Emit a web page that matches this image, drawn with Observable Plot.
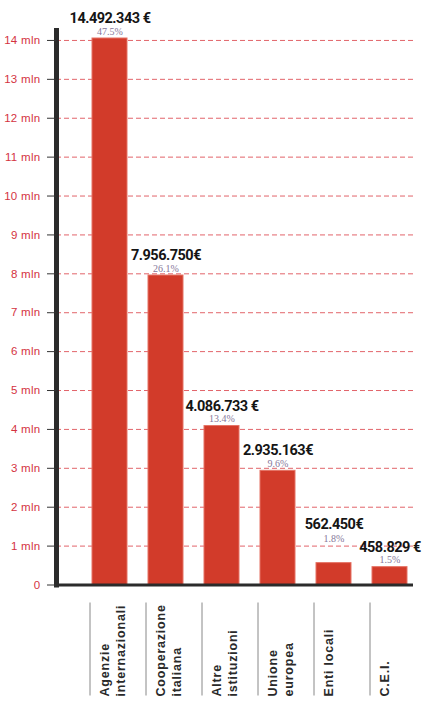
<!DOCTYPE html>
<html>
<head>
<meta charset="utf-8">
<script src="https://cdn.jsdelivr.net/npm/d3@7"></script>
<script src="https://cdn.jsdelivr.net/npm/@observablehq/plot@0.6"></script>
<style>
  html, body { margin: 0; padding: 0; background: #fff; }
  .cat text { letter-spacing: 0.8px; }
  .val text { letter-spacing: -0.5px; }
  .yax text { letter-spacing: 0.3px; }
</style>
</head>
<body>
<div id="chart"></div>
<script>
const categories = ["Agenzie internazionali", "Cooperazione italiana", "Altre istituzioni", "Unione europea", "Enti locali", "C.E.I."];
const categoryLabels = ["Agenzie\ninternazionali", "Cooperazione\nitaliana", "Altre\nistituzioni", "Unione\neuropea", "Enti locali", "C.E.I."];
const values = [14492343, 7956750, 4086733, 2935163, 562450, 458829];
const valueLabels = ["14.492.343 €", "7.956.750€", "4.086.733 €", "2.935.163€", "562.450€", "458.829 €"];
const percentLabels = ["47.5%", "26.1%", "13.4%", "9.6%", "1.8%", "1.5%"];
const yTicksMln = [0, 1, 2, 3, 4, 5, 6, 7, 8, 9, 10, 11, 12, 13, 14];

const data = categories.map((c, i) => ({
  category: c,
  label: categoryLabels[i],
  value: values[i],
  valueLabel: valueLabels[i],
  percent: percentLabels[i]
}));
const yTicks = yTicksMln.map(d => d * 1e6);
const lifted = d => d.category === "Enti locali";
const regular = d => !lifted(d);

const valueStyle = {
  x: "category", y: "value", text: "valueLabel", lineAnchor: "bottom",
  fontFamily: "Roboto, Liberation Sans, Arial, sans-serif",
  fontWeight: "bold", fontSize: 14.5, fill: "#151515", className: "val"
};
const percentStyle = {
  x: "category", y: "value", text: "percent", lineAnchor: "bottom",
  fontFamily: "Liberation Serif, Times New Roman, serif",
  fontSize: 10, fill: "#86789a"
};

const chart = Plot.plot({
  width: 431,
  height: 705,
  marginTop: 38,
  marginBottom: 120.5,
  marginLeft: 56,
  marginRight: 18,
  style: { background: "white", fontFamily: "Liberation Sans, Arial, sans-serif", overflow: "visible" },
  x: { domain: categories, paddingInner: 0.376, paddingOuter: 0.188, insetLeft: 25, insetRight: -4.6 },
  y: { domain: [0, 14.05e6], clamp: true },
  marks: [
    Plot.ruleY(yTicks.filter(d => d > 0), { stroke: "#e2646a", strokeWidth: 1, strokeDasharray: "5,3" }),
    Plot.barY(data, { x: "category", y: "value", fill: "#d23b2a", stroke: "#e57364", strokeWidth: 1 }),
    Plot.ruleY([0], { stroke: "#2b2b2b", strokeWidth: 3 }),
    Plot.frame({ anchor: "left", stroke: "#2b2b2b", strokeWidth: 5, insetTop: -8 }),
    Plot.axisY({
      ticks: yTicks,
      tickSize: 9,
      tickPadding: 7,
      stroke: "#333",
      fill: "#d4333f",
      fontSize: 11.5,
      label: null,
      className: "yax",
      tickFormat: d => d === 0 ? "0" : `${d / 1e6} mln`
    }),
    Plot.text(data.filter(regular), { ...percentStyle, dy: -4 }),
    Plot.text(data.filter(lifted), { ...percentStyle, dy: -21 }),
    Plot.text(data.filter(regular), { ...valueStyle, dy: -15.5 }),
    Plot.text(data.filter(lifted), { ...valueStyle, dy: -34 }),
    Plot.axisX({
      ticks: categories,
      tickSize: 93,
      tickPadding: 0,
      dx: -20,
      dy: 18,
      stroke: "#888",
      tickFormat: () => "",
      label: null
    }),
    Plot.text(data, {
      x: "category", text: "label",
      frameAnchor: "bottom",
      rotate: -90,
      textAnchor: "start",
      lineAnchor: "top",
      lineHeight: 1.25,
      dx: -12,
      dy: 111.5,
      fontFamily: "Liberation Sans, Arial, sans-serif",
      fontWeight: "bold",
      fontSize: 12.5,
      fill: "#2a2a2a",
      className: "cat"
    })
  ]
});
document.getElementById("chart").appendChild(chart);
</script>
</body>
</html>
